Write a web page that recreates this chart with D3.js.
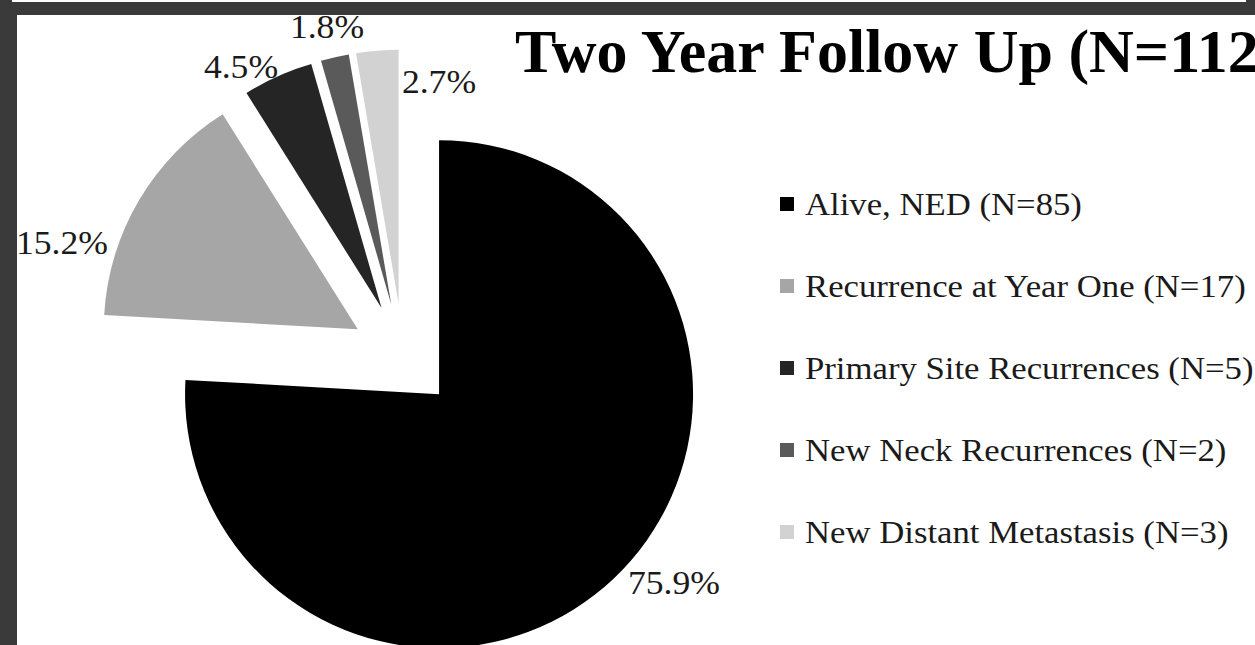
<!DOCTYPE html>
<html>
<head>
<meta charset="utf-8">
<script src="https://cdn.jsdelivr.net/npm/d3@7"></script>
<style>
  html, body { margin: 0; padding: 0; background: #fff; }
  svg { display: block; }
</style>
</head>
<body>
<svg id="chart" width="1255" height="645"></svg>
<script>
// ---- data ----
const categories = ["Alive, NED", "Recurrence at Year One", "Primary Site Recurrences", "New Neck Recurrences", "New Distant Metastasis"];
const counts = [85, 17, 5, 2, 3];
const colors = ["#000000", "#a6a6a6", "#252525", "#5a5a5a", "#d2d2d2"];
const titleText = "Two Year Follow Up (N=112)";
// label anchor positions (layout only)
const labelPos = [[674, 594], [62, 254], [241, 78], [327, 38], [439, 93]];

// ---- layout ----
const W = 1255, H = 645;
const cx = 403, cy = 356, R = 254, explode = 52.5;
const svg = d3.select("#chart");
svg.append("rect").attr("width", W).attr("height", H).attr("fill", "#fff");

const pie = d3.pie().sort(null).value(d => d).startAngle(0).endAngle(2 * Math.PI);
const arcs = pie(counts);
const arc = d3.arc().innerRadius(0).outerRadius(R);
const total = d3.sum(counts);
const fmt = d3.format(".1%");

const g = svg.append("g");
g.selectAll("path").data(arcs).join("path")
  .attr("d", arc)
  .attr("fill", (d, i) => colors[i])
  .attr("transform", d => {
    const m = (d.startAngle + d.endAngle) / 2;
    return `translate(${cx + explode * Math.sin(m)},${cy - explode * Math.cos(m)})`;
  });

// percentage labels
svg.append("g").selectAll("text").data(arcs).join("text")
  .attr("transform", (d, i) => `translate(${labelPos[i][0]},${labelPos[i][1]}) scale(1.08,1)`)
  .attr("text-anchor", "middle")
  .attr("font-family", "'Liberation Serif', 'Times New Roman', serif")
  .attr("font-size", 33)
  .attr("fill", "#1a1a1a")
  .text(d => fmt(d.value / total));

// title
svg.append("text")
  .attr("transform", "translate(515,72) scale(1.0,1)")
  .attr("font-family", "'Liberation Serif', 'Times New Roman', serif")
  .attr("font-weight", "bold")
  .attr("font-size", 62)
  .attr("fill", "#000")
  .text(titleText);

// legend
const lg = svg.append("g");
const rowY = d3.scalePoint().domain(categories).range([204, 532]);
categories.forEach((c, i) => {
  const y = rowY(c);
  lg.append("rect").attr("x", 780).attr("y", y - 7).attr("width", 14).attr("height", 14).attr("fill", colors[i]);
  lg.append("text")
    .attr("transform", `translate(805,${y + 11}) scale(1.085,1)`)
    .attr("font-family", "'Liberation Serif', 'Times New Roman', serif")
    .attr("font-size", 32)
    .attr("fill", "#1a1a1a")
    .text(`${c} (N=${counts[i]})`);
});

// dark frame (drawn on top)
const frame = svg.append("g").attr("fill", "#3a3a3a");
frame.append("rect").attr("x", 0).attr("y", 0).attr("width", W).attr("height", 15);
frame.append("rect").attr("x", 0).attr("y", 0).attr("width", 17).attr("height", H);
svg.append("rect").attr("x", 12).attr("y", 0).attr("width", 1234).attr("height", 2).attr("fill", "#fff");
</script>
</body>
</html>
